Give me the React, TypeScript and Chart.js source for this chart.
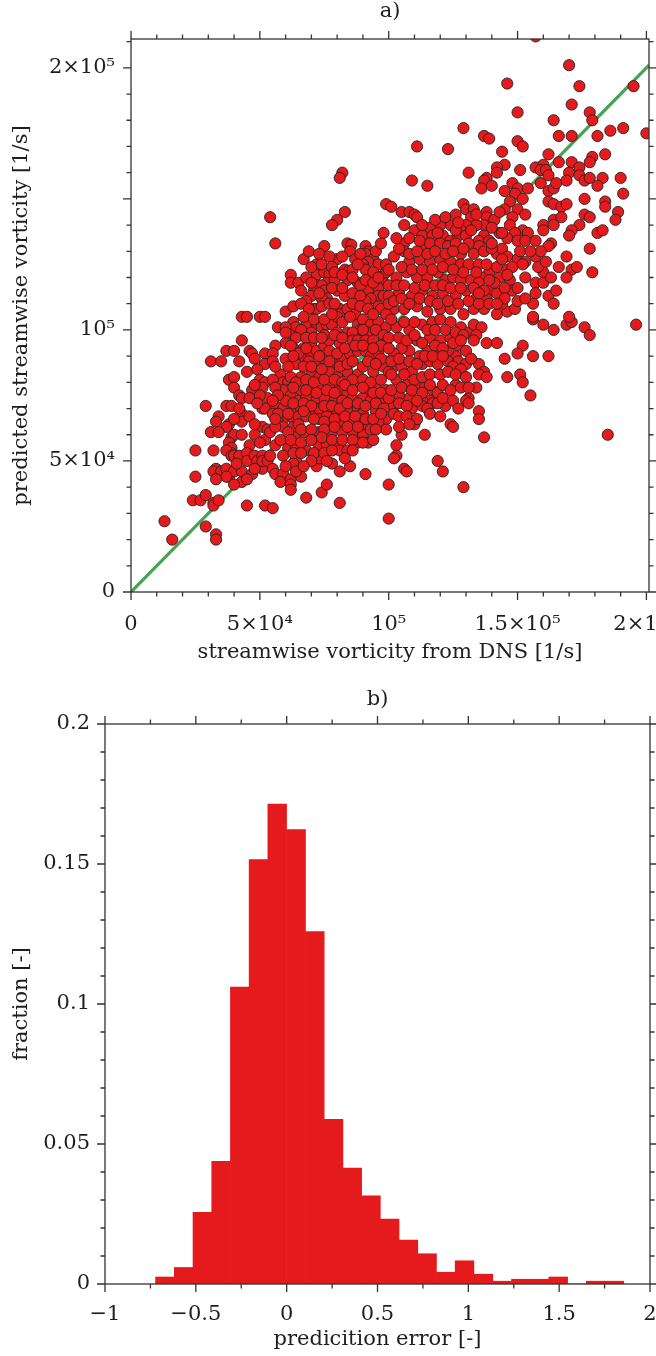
import React, { useEffect, useRef } from 'react';
import { Chart, registerables } from 'chart.js';

Chart.register(...registerables);

const FONT_FAMILY = "'DejaVu Serif', 'Liberation Serif', serif";
const FONT_SIZE = 21;
const INK = '#1e1e1e';
const FRAME = '#333333';
const RED = '#e41a1c';
const GREEN = '#47a352';

// ---------- Panel a): [vorticity from DNS, predicted vorticity], units of 10^3 1/s ----------
const vorticityPairsK: [number, number][] = [
  [82,160],[81,158],[54,143],[83,145],[80,142],[78,140],[99,148],[98,137],[56,133],[75,132],
  [84,133],[85.5,132.5],[85,130],[91,132],[92,130],[91,129],[67,127],[72,125],[80,127],[94,127],
  [92,126],[90,125],[91,123],[96,125],[99,125],[83,123],[84.5,122.5],[62,121],[62,118],[65,118],
  [72,121],[75,122],[77,121],[76,118],[72,117],[74,117],[79,119],[84,119],[88,118],[98,121],
  [98,118],[99,122],[100,123],[71,115],[70,113],[68,111],[75,115],[80,115],[83,113],[76,112],
  [74,112],[92,115],[89,117],[96,116],[94,112],[96,113],[98,113],[93,112],[91,111],[60,107],
  [63,109],[71,108],[72,108],[81,108],[79,106],[81,106],[84,108],[87,106],[96,109],[97,108],
  [43,105],[45,105],[50,105],[52,105],[57,101],[63,103],[64,101],[68,102],[72,102],[74,101],
  [76,102],[78,102],[80,105],[82,103],[85,105],[88,102],[90,104],[93,102],[96,103],[99,101],
  [43,96],[62,98],[66,98],[60,95],[63,93],[56,94],[37,92],[40,92],[46,92],[47,91],
  [52,91],[55,91],[60,89],[31,88],[52,87],[45,84],[38,81],[40,82],[50,81],[52,80],
  [51,78],[47,77],[58,83],[59,80],[61,80],[61,77],[59,77],[40,78],[42,75],[43,74],
  [53,74],[29,71],[37,71],[39,71],[43,68],[43,65],[42,70],[34,67],[33,65],[38,64],
  [37,63],[31,61],[34,61],[39,59],[40,60],[48,60],[51,70],[52,70],[51,63],[53,62],
  [52,58],[56,56],[38,57],[39,55],[39,53],[37,54],[39,52],[40,52],[42,52],[25,54],
  [32,54],[46,56],[45,53],[45,50],[48,52],[49,50],[51,52],[33,47],[32,46],[35,46],
  [37,47],[38,44],[40,46],[43,46],[43,42],[40,41],[37,44],[25,44],[47,45],[51,47],
  [51,50],[53,50],[55,47],[56,45],[59,45],[58,42],[62,43],[62,41],[62,39],[66,44],
  [64,50],[63,49],[64,46],[24,35],[27,35],[29,37],[32,34],[32,33],[34,35],[45,33],
  [52,33],[55,32],[68,36],[74,38],[76,41],[81,34],[13,27],[29,25],[16,20],[33,22],
  [33,20],[91,45],[100,41],[100,28],[70,95],[67,93],[66,90],[70,91],[72,92],[75,94],
  [77,96],[81,95],[84,99],[89,100],[92,99],[95,100],[98,98],[99,95],[64,87],[69,88],
  [72,86],[75,89],[79,87],[82,89],[85,91],[88,92],[91,92],[93,90],[96,91],[99,88],
  [66,82],[70,83],[73,82],[77,84],[80,82],[84,84],[88,83],[90,86],[94,84],[98,86],
  [66,77],[70,79],[74,77],[77,79],[81,77],[84,76],[88,79],[92,77],[95,78],[99,77],
  [62,75],[65,73],[68,74],[72,73],[75,74],[79,73],[82,73],[86,74],[90,74],[93,73],
  [97,73],[56,71],[59,70],[63,69],[66,70],[70,68],[73,70],[77,69],[80,68],[84,70],
  [88,70],[90,68],[95,69],[99,66],[55,68],[59,66],[63,66],[65,67],[68,67],[73,66],
  [76,67],[77,64],[81,65],[85,65],[89,66],[92,63],[96,65],[99,62],[57,65],[54,61],
  [59,63],[63,63],[64,59],[68,61],[73,61],[78,61],[82,61],[86,61],[90,60],[93,62],
  [61,55],[64,55],[68,54],[73,56],[76,56],[80,56],[81,54],[84,54],[88,57],[92,57],
  [72,48],[73,51],[78,49],[81,46],[85,48],[196,102],[176,101],[178,98],[169,102],[171,103],
  [160,102],[164,100],[156,104],[138,95],[142,95],[152,94],[150,91],[145,89],[156,90],[162,90],
  [151,83],[152,80],[146,82],[155,75],[135,87],[137,84],[135,83],[138,82],[134,78],[126,79],
  [131,74],[130,73],[131,72],[135,69],[135,66],[122,71],[124,64],[125,63],[137,59],[185,60],
  [110,64],[114,60],[105,60],[103,56],[103,52],[102,51],[106,47],[107,46],[119,50],[121,46],
  [129,40],[103,101],[108,100],[113,102],[117,103],[120,104],[124,103],[128,101],[131,99],[133,102],
  [136,101],[111,96],[116,97],[120,96],[124,97],[127,94],[130,92],[126,90],[123,92],[119,91],
  [115,92],[112,90],[108,92],[105,93],[102,91],[102,86],[105,86],[109,84],[113,87],[116,88],
  [119,87],[123,88],[127,88],[130,87],[103,81],[107,79],[111,78],[114,78],[117,77],[119,76],
  [116,73],[113,73],[108,74],[104,75],[102,71],[109,70],[113,71],[117,72],[102,68],[170,201],
  [146,194],[174,193],[195,193],[171,186],[150,183],[178,183],[179,180],[164,180],[129,177],[137,174],
  [139,173],[166,174],[171,174],[181,174],[186,176],[191,177],[200,175],[150,172],[152,170],[111,170],
  [123,169],[144,168],[162,167],[184,167],[179,166],[178,164],[145,163],[142,162],[142,160],[151,161],
  [157,162],[160,163],[159,161],[161,161],[166,164],[171,164],[174,162],[170,160],[131,160],[138,158],
  [137,157],[136,154],[140,155],[109,157],[115,155],[148,156],[150,154],[154,154],[149,152],[152,150],
  [159,156],[162,159],[162,153],[164,154],[165,156],[169,157],[174,159],[176,157],[178,158],[183,158],
  [181,155],[190,158],[191,152],[176,150],[184,149],[184,147],[145,153],[147,149],[145,146],[162,149],
  [164,148],[167,147],[169,148],[150,146],[153,144],[148,143],[176,144],[178,143],[189,145],[188,142],
  [129,148],[130,146],[133,146],[132,143],[126,144],[138,145],[138,143],[141,142],[101,147],[105,145],
  [108,145],[110,144],[111,143],[164,142],[167,143],[160,140],[164,140],[174,140],[171,138],[170,136],
  [181,137],[183,138],[178,131],[169,128],[171,123],[173,124],[169,120],[179,122],[137,140],[134,140],
  [130,140],[128,138],[124,140],[120,140],[116,139],[147,140],[152,138],[154,137],[149,137],[143,137],
  [137,136],[135,134],[135,132],[146,135],[150,134],[153,134],[157,134],[160,138],[163,133],[162,132],
  [110,138],[113,136],[117,136],[121,136],[124,134],[127,136],[130,136],[106,133],[102,128],[106,130],
  [113,132],[116,133],[120,133],[123,132],[126,133],[131,133],[128,129],[142,129],[144,131],[146,128],
  [150,127],[153,126],[157,128],[159,130],[160,122],[157,118],[157,114],[156,110],[162,113],[164,110],
  [165,115],[152,125],[153,120],[147,119],[148,115],[143,120],[139,122],[136,120],[108,126],[112,127],
  [116,126],[120,127],[124,126],[128,125],[131,125],[135,125],[103,120],[107,122],[111,120],[115,120],
  [119,122],[122,119],[125,120],[128,119],[132,119],[135,118],[139,115],[142,114],[104,114],[109,113],
  [113,115],[117,113],[121,114],[126,113],[130,115],[134,112],[138,112],[102,108],[106,108],[111,109],
  [115,107],[120,108],[124,108],[129,106],[133,108],[137,108],[142,106],[146,107],[149,108],[156,105],
  [170,105],[157,212],
];

// densely overlapping points in the core of the cloud
const denseCorePairsK: [number, number][] = [
  [69,130],[73,129],[77,128],[82,128],[87,127],[89,129],[95,130],[97,133],[70,124],[74,125],
  [78,124],[86,123],[88,125],[94,122],[68,120],[70,118],[79,122],[82,121],[86,120],[91,119],
  [94,118],[96,120],[66,115],[73,114],[78,116],[82,116],[86,114],[89,113],[100,117],[100,113],
  [66,110],[69,108],[74,109],[77,110],[79,110],[86,110],[89,109],[92,108],[94,106],[99,106],
  [100,110],[67,105],[71,104],[75,104],[78,106],[90,100],[86,99],[80,99],[75,98],[70,99],
  [66,100],[60,101],
  [60,99],[64,97],[68,97],[71,97],[74,97],[79,98],[82,97],[86,96],[88,96],[91,96],
  [94,96],[97,94],[100,97],[100,93],[62,94],[65,91],[68,93],[73,90],[77,92],[80,91],
  [83,93],[87,94],[90,94],[94,93],[97,89],[61,86],[63,90],[67,86],[70,86],[74,85],
  [77,88],[81,86],[84,87],[86,88],[92,88],[95,87],[100,84],[62,82],[64,80],[68,81],
  [71,80],[75,81],[79,81],[82,80],[86,81],[90,81],[93,80],[97,81],[63,78],[68,77],
  [72,76],[76,77],[79,76],[83,79],[86,77],[90,78],[94,76],[97,76],[100,74],[60,73],
  [63,72],[67,72],[70,71],[75,71],[78,71],[81,70],[84,72],[88,72],[91,71],[95,72],
  [98,70],[57,68],[61,68],[65,64],[67,69],[71,66],[75,65],[79,66],[83,67],[87,67],
  [91,66],[94,66],[97,68],[56,63],[61,61],[66,62],[70,62],[75,62],[79,63],[84,63],
  [88,63],[95,62],[58,58],[62,58],[66,57],[70,58],[74,59],[78,58],[82,58],[86,58],
  [90,57],[94,58],[59,52],[63,53],[66,53],[71,53],[75,53],[78,54],[86,54],[70,50],
  [76,50],[83,51],[67,48],[60,48],
  [101,104],[106,103],[110,103],[115,100],[118,100],[122,100],[126,99],[129,98],[134,98],[104,97],
  [107,96],[110,98],[113,95],[118,94],[121,93],[125,95],[128,96],[133,96],[101,88],[104,89],
  [108,88],[111,87],[114,90],[117,90],[121,90],[125,86],[128,85],[132,89],[101,83],[106,83],
  [110,81],[113,82],[116,83],[120,83],[123,84],[126,83],[130,82],[101,77],[105,78],[109,77],
  [113,76],[116,79],[121,79],[124,77],[128,78],[131,78],[104,72],[107,71],[111,73],[115,70],
  [119,72],[121,74],[125,73],[127,70],[104,67],[107,67],[111,66],[116,68],[120,67],[104,63],
  [108,64],
  [102,111],[105,112],[108,110],[112,112],[116,111],[119,110],[123,111],[127,110],[131,111],[135,110],
  [139,110],[144,110],[103,117],[106,117],[110,116],[114,117],[118,117],[121,117],[124,116],[128,116],
  [133,116],[137,115],[141,118],[145,116],[105,124],[109,123],[113,123],[117,123],[121,124],[125,123],
  [129,122],[134,122],[138,125],[142,124],[146,123],[104,131],[108,129],[111,130],[115,129],[118,130],
  [122,129],[125,130],[129,131],[133,129],[137,130],[140,131],[103,135],[108,135],[112,134],[119,137],
  [126,138],[132,138],[140,139],[144,137],[139,134],[106,140],[113,140],[118,142],[122,143],[127,141],
  [134,144],[143,145],
  [35,88],[42,88],[48,89],[55,88],[49,85],[56,86],[55,81],[48,79],[56,78],[46,74],
  [50,75],[57,75],[49,72],[55,73],[40,66],[46,67],[48,64],[56,66],[43,60],[50,57],
  [41,49],[48,47],[54,52],[45,43],[33,43],
  [140,133],[144,127],[148,124],[151,130],[155,130],[158,124],[161,126],[145,112],[150,111],[153,112],
  [150,116],[160,118],[163,120],[166,124],[139,119],[142,110],[135,114],[146,121],
];

const identityLineK = [0, 201]; // y = x reference line end points
const scatterXRange = [0, 201000];
const scatterYRange = [0, 211000];
const scatterXTicks = [0, 50000, 100000, 150000, 200000];
const scatterXTickLabels = ['0', '5×10⁴', '10⁵', '1.5×10⁵', '2×10⁵'];
const scatterYTicks = [0, 50000, 100000, 150000, 200000];
const scatterYTickLabels = ['0', '5×10⁴', '10⁵', '', '2×10⁵'];
const scatterMinorStep = 10000;

// ---------- Panel b): histogram of the prediction error ----------
const errorBinCenters = [
  -0.670, -0.567, -0.464, -0.361, -0.258, -0.155, -0.052, 0.052, 0.155, 0.258,
  0.361, 0.464, 0.567, 0.670, 0.773, 0.876, 0.979, 1.083, 1.186, 1.289,
  1.392, 1.495, 1.598, 1.701, 1.804,
];
const errorFractions = [
  0.0025, 0.0059, 0.0256, 0.0438, 0.106, 0.1516, 0.1714, 0.1623, 0.1259, 0.0588,
  0.0414, 0.0315, 0.0232, 0.0157, 0.0108, 0.0042, 0.0083, 0.0035, 0.0010, 0.0017,
  0.0017, 0.0025, 0.0, 0.0010, 0.0010,
];
const histXRange = [-1, 2];
const histYRange = [0, 0.2];
const histXTicks = [-1, -0.5, 0, 0.5, 1, 1.5, 2];
const histXTickLabels = ['−1', '−0.5', '0', '0.5', '1', '1.5', '2'];
const histYTicks = [0, 0.05, 0.1, 0.15, 0.2];
const histYTickLabels = ['0', '0.05', '0.1', '0.15', '0.2'];
const histXMinorStep = 0.25;
const histYMinorStep = 0.01;

Chart.defaults.font.family = FONT_FAMILY;

function makeAxis(opts: {
  range: number[];
  ticks: number[];
  labels: string[];
  size: number;
  tickPadding: number;
  title: string;
  titlePadding: any;
}) {
  return {
    type: 'linear',
    min: opts.range[0],
    max: opts.range[1],
    offset: false,
    grid: { display: false, drawTicks: false },
    border: { display: false },
    ticks: {
      autoSkip: false,
      maxRotation: 0,
      minRotation: 0,
      padding: opts.tickPadding,
      color: INK,
      font: { family: FONT_FAMILY, size: FONT_SIZE },
      callback: (v: number) => {
        const i = opts.ticks.findIndex((t) => Math.abs(t - v) < 1e-9);
        return i >= 0 ? opts.labels[i] : '';
      },
    },
    afterBuildTicks: (s: any) => {
      s.ticks = opts.ticks.map((v) => ({ value: v }));
    },
    afterFit: (s: any) => {
      if (s.isHorizontal()) s.height = opts.size;
      else s.width = opts.size;
      s.paddingLeft = 0;
      s.paddingRight = 0;
      s.paddingTop = 0;
      s.paddingBottom = 0;
    },
    title: {
      display: true,
      text: opts.title,
      color: INK,
      font: { family: FONT_FAMILY, size: FONT_SIZE },
      padding: opts.titlePadding,
    },
  };
}

function framePlugin(cfg: {
  title: string;
  titleY: number;
  xMajor: number[];
  yMajor: number[];
  xMinorStep: number;
  yMinorStep: number;
}) {
  return {
    id: 'frameTicks',
    afterDraw(chart: any) {
      const { ctx, chartArea: a, scales } = chart;
      const xs = scales.x;
      const ys = scales.y;
      const MAJ = 8;
      const MIN = 4.5;
      ctx.save();
      ctx.strokeStyle = FRAME;
      ctx.lineWidth = 1.3;
      ctx.strokeRect(a.left, a.top, a.right - a.left, a.bottom - a.top);
      ctx.beginPath();
      const tickX = (v: number, len: number) => {
        const p = xs.getPixelForValue(v);
        if (p < a.left - 0.5 || p > a.right + 0.5) return;
        ctx.moveTo(p, a.bottom);
        ctx.lineTo(p, a.bottom + len);
        ctx.moveTo(p, a.top);
        ctx.lineTo(p, a.top - len);
      };
      const tickY = (v: number, len: number) => {
        const p = ys.getPixelForValue(v);
        if (p < a.top - 0.5 || p > a.bottom + 0.5) return;
        ctx.moveTo(a.left, p);
        ctx.lineTo(a.left - len, p);
        ctx.moveTo(a.right, p);
        ctx.lineTo(a.right + len, p);
      };
      for (let i = Math.ceil(xs.min / cfg.xMinorStep - 1e-9); i * cfg.xMinorStep <= xs.max + 1e-9; i++) {
        tickX(i * cfg.xMinorStep, MIN);
      }
      for (let i = Math.ceil(ys.min / cfg.yMinorStep - 1e-9); i * cfg.yMinorStep <= ys.max + 1e-9; i++) {
        tickY(i * cfg.yMinorStep, MIN);
      }
      cfg.xMajor.forEach((v) => tickX(v, MAJ));
      cfg.yMajor.forEach((v) => tickY(v, MAJ));
      ctx.stroke();
      ctx.fillStyle = INK;
      ctx.font = `${FONT_SIZE}px ${FONT_FAMILY}`;
      ctx.textAlign = 'center';
      ctx.textBaseline = 'middle';
      ctx.fillText(cfg.title, (a.left + a.right) / 2, cfg.titleY);
      ctx.restore();
    },
  };
}

function buildScatter(): any {
  const pairs = vorticityPairsK.concat(denseCorePairsK);
  return {
    type: 'scatter',
    data: {
      datasets: [
        {
          type: 'scatter',
          data: pairs.map(([x, y]) => ({ x: x * 1000, y: y * 1000 })),
          backgroundColor: RED,
          borderColor: '#222222',
          borderWidth: 0.9,
          pointRadius: 5.6,
          order: 0,
        },
        {
          type: 'line',
          data: identityLineK.map((v) => ({ x: v * 1000, y: v * 1000 })),
          borderColor: GREEN,
          borderWidth: 3.2,
          pointRadius: 0,
          fill: false,
          showLine: true,
          order: 1,
        },
      ],
    },
    options: {
      responsive: false,
      animation: false,
      events: [],
      layout: { padding: { left: 0, top: 39, right: 7, bottom: 0 } },
      plugins: { legend: { display: false }, tooltip: { enabled: false }, title: { display: false } },
      scales: {
        x: makeAxis({
          range: scatterXRange,
          ticks: scatterXTicks,
          labels: scatterXTickLabels,
          size: 88,
          tickPadding: 20,
          title: 'streamwise vorticity from DNS [1/s]',
          titlePadding: { top: 0, bottom: 15 },
        }),
        y: makeAxis({
          range: scatterYRange,
          ticks: scatterYTicks,
          labels: scatterYTickLabels,
          size: 131,
          tickPadding: 16,
          title: 'predicted streamwise vorticity [1/s]',
          titlePadding: { top: 9, bottom: 0 },
        }),
      },
    },
    plugins: [
      framePlugin({
        title: 'a)',
        titleY: 12,
        xMajor: scatterXTicks,
        yMajor: scatterYTicks,
        xMinorStep: scatterMinorStep,
        yMinorStep: scatterMinorStep,
      }),
    ],
  };
}

function buildHistogram(): any {
  return {
    type: 'bar',
    data: {
      datasets: [
        {
          data: errorBinCenters.map((c, i) => ({ x: c, y: errorFractions[i] })),
          backgroundColor: RED,
          borderWidth: 0,
          barPercentage: 1,
          categoryPercentage: 1,
        },
      ],
    },
    options: {
      responsive: false,
      animation: false,
      events: [],
      layout: { padding: { left: 0, top: 44, right: 6, bottom: 0 } },
      plugins: { legend: { display: false }, tooltip: { enabled: false }, title: { display: false } },
      scales: {
        x: makeAxis({
          range: histXRange,
          ticks: histXTicks,
          labels: histXTickLabels,
          size: 72,
          tickPadding: 18,
          title: 'predicition error [-]',
          titlePadding: { top: 0, bottom: 4 },
        }),
        y: makeAxis({
          range: histYRange,
          ticks: histYTicks,
          labels: histYTickLabels,
          size: 105,
          tickPadding: 15,
          title: 'fraction [-]',
          titlePadding: { top: 9, bottom: 0 },
        }),
      },
    },
    plugins: [
      framePlugin({
        title: 'b)',
        titleY: 20,
        xMajor: histXTicks,
        yMajor: histYTicks,
        xMinorStep: histXMinorStep,
        yMinorStep: histYMinorStep,
      }),
    ],
  };
}

function ChartCanvas(props: { width: number; height: number; top: number; build: () => any }) {
  const ref = useRef<HTMLCanvasElement>(null);
  useEffect(() => {
    const chart = new Chart(ref.current as HTMLCanvasElement, props.build());
    return () => chart.destroy();
  }, []);
  return (
    <canvas
      ref={ref}
      width={props.width}
      height={props.height}
      style={{ position: 'absolute', left: 0, top: props.top, width: props.width, height: props.height, display: 'block' }}
    />
  );
}

export default function App() {
  return (
    <div style={{ position: 'absolute', left: 0, top: 0, width: 656, height: 1356, background: '#ffffff', overflow: 'hidden' }}>
      <ChartCanvas width={656} height={680} top={0} build={buildScatter} />
      <ChartCanvas width={656} height={676} top={680} build={buildHistogram} />
    </div>
  );
}
